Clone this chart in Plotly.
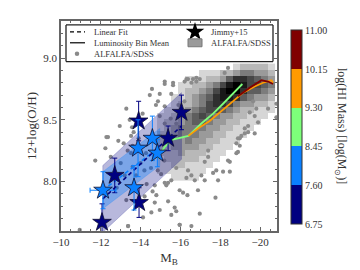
import plotly.graph_objects as go

# ---------------- data ----------------
# ALFALFA/SDSS individual galaxies (sparse regions)
dots_mb = [-14.57, -14.96, -15.21, -13.28, -14.96, -15.51, -15.21, -15.79, -12.36, -14.77,
           -13.57, -13.65, -13.52, -12.88, -13.15, -12.23, -11.72, -13.60, -13.35, -13.52,
           -14.27, -14.19, -14.52, -14.86, -15.03, -13.77, -15.19, -15.21, -15.63, -14.46,
           -14.87, -15.54, -13.28, -13.37, -14.12, -14.71, -14.79, -15.29, -15.38, -15.71,
           -15.54, -10.94, -14.20, -14.54, -14.96, -14.71, -15.21, -15.79, -15.96, -16.13,
           -16.55, -17.39, -17.22, -15.79, -16.30, -15.54, -16.38, -16.55, -16.72, -17.05,
           -17.22, -17.64, -17.80, -17.89, -18.48, -18.14, -15.96, -16.35, -16.88, -17.76,
           -16.97, -15.38, -17.39, -18.98, -18.81, -18.98, -18.39, -18.48, -18.81, -18.89,
           -19.23, -19.40, -19.73, -19.65, -19.81, -19.48, -19.73, -19.90, -19.40, -19.23,
           -19.06, -18.89, -20.82, -20.82, -20.40, -18.39, -18.22, -16.97, -16.80, -16.38,
           -16.21, -16.55, -15.21, -15.63, -16.63, -16.80, -16.30, -12.28, -13.00, -13.20,
           -14.00, -14.30, -12.80, -14.60, -13.60, -12.50, -13.90, -14.10, -13.45, -12.95,
           -16.00, -15.90, -16.20, -13.37, -15.96]
dots_oh = [8.75, 8.71, 8.61, 8.59, 8.53, 8.51, 8.47, 8.47, 8.36, 8.62,
           8.44, 8.40, 8.37, 8.33, 8.31, 8.27, 8.17, 8.29, 8.25, 8.23,
           8.23, 8.09, 8.11, 8.09, 8.06, 8.05, 8.17, 8.79, 8.78, 8.70,
           8.65, 8.71, 7.85, 7.64, 7.71, 7.83, 7.89, 7.97, 7.84, 7.79,
           7.73, 7.61, 7.88, 7.75, 7.77, 7.97, 7.99, 7.76, 7.65, 7.91,
           7.64, 8.20, 8.16, 8.11, 8.03, 8.01, 8.09, 8.05, 8.01, 8.05,
           8.01, 8.07, 8.09, 8.01, 8.08, 8.08, 7.93, 7.89, 7.93, 7.87,
           7.74, 7.99, 8.25, 8.35, 8.31, 8.29, 8.17, 8.16, 8.23, 8.24,
           8.39, 8.40, 8.39, 8.65, 8.59, 8.56, 8.53, 8.48, 8.45, 8.43,
           8.37, 8.35, 8.63, 8.52, 8.59, 8.92, 8.88, 8.83, 8.81, 8.83,
           8.81, 8.80, 8.81, 8.80, 8.83, 8.84, 8.83, 8.36, 8.15, 8.05,
           8.15, 7.98, 7.95, 7.92, 8.12, 8.20, 8.35, 8.55, 8.50, 8.45,
           8.55, 8.62, 8.65, 7.64, 7.65]

# ALFALFA/SDSS 2D density (dense region), columns = M_B bin centres, rows = O/H bin centres
hist_mb = [-15.0, -15.35, -15.7, -16.05, -16.4, -16.75, -17.1, -17.45, -17.8,
           -18.15, -18.5, -18.85, -19.2, -19.55, -19.9, -20.25, -20.6]
hist_oh = [8.03, 8.08, 8.13, 8.18, 8.23, 8.28, 8.33, 8.38, 8.43, 8.48,
           8.53, 8.58, 8.63, 8.68, 8.73, 8.78, 8.83, 8.88, 8.93]
hist_counts = [
    [0, 0, 1, 1, 1, 1, 0, 0, 0, 0, 0, 0, 0, 0, 0, 0, 0],
    [1, 1, 1, 1, 1, 1, 1, 0, 0, 0, 0, 0, 0, 0, 0, 0, 0],
    [1, 1, 2, 2, 1, 1, 1, 1, 0, 0, 0, 0, 0, 0, 0, 0, 0],
    [1, 2, 2, 2, 2, 2, 1, 1, 1, 0, 0, 0, 0, 0, 0, 0, 0],
    [2, 2, 2, 3, 2, 2, 2, 1, 1, 1, 0, 0, 0, 0, 0, 0, 0],
    [2, 2, 3, 3, 3, 3, 2, 2, 1, 1, 1, 0, 0, 0, 0, 0, 0],
    [2, 3, 3, 3, 4, 3, 3, 2, 2, 1, 1, 1, 0, 0, 0, 0, 0],
    [2, 2, 3, 4, 4, 4, 3, 3, 2, 2, 1, 1, 1, 0, 0, 0, 0],
    [1, 2, 3, 4, 4, 4, 4, 3, 3, 2, 2, 1, 1, 1, 0, 0, 0],
    [1, 2, 2, 3, 4, 5, 5, 4, 3, 3, 2, 2, 1, 1, 1, 0, 0],
    [1, 1, 2, 3, 4, 5, 6, 5, 4, 3, 3, 2, 2, 1, 1, 1, 0],
    [0, 1, 1, 2, 3, 4, 5, 6, 6, 5, 4, 3, 2, 2, 1, 1, 1],
    [0, 0, 1, 2, 2, 3, 4, 6, 7, 7, 6, 4, 3, 3, 2, 2, 1],
    [0, 0, 1, 1, 2, 3, 4, 5, 7, 8, 8, 7, 5, 4, 3, 3, 2],
    [0, 0, 0, 1, 2, 2, 3, 4, 6, 8, 9, 9, 7, 5, 5, 4, 3],
    [0, 0, 0, 1, 1, 2, 2, 3, 4, 6, 8, 9, 8, 6, 6, 5, 4],
    [0, 0, 0, 0, 1, 1, 1, 2, 2, 3, 5, 7, 7, 6, 5, 4, 3],
    [0, 0, 0, 0, 0, 0, 1, 1, 1, 2, 2, 3, 4, 4, 3, 3, 2],
    [0, 0, 0, 0, 0, 0, 0, 0, 0, 0, 0, 1, 2, 2, 2, 2, 1],
]

# Jimmy+15 dwarfs
j_mb = [-13.90, -16.05, -15.38, -12.70, -13.92, -12.06,   # low HI mass
        -14.59, -13.87, -14.84, -12.11, -13.67]           # higher HI mass
j_oh = [8.49, 8.56, 8.35, 8.05, 7.83, 7.67,
        8.35, 8.27, 8.23, 7.93, 7.95]
j_oh_err = [0.16, 0.14, 0.10, 0.14, 0.12, 0.15,
            0.18, 0.23, 0.11, 0.15, 0.18]
j_mb_err = [0, 0, 0, 0, 0, 0,
            0, 0, 0, 0.65, 0]
j_himass = [7.3, 7.4, 7.2, 7.1, 7.3, 7.0,
            8.1, 8.0, 8.2, 7.9, 8.0]

# linear fits (M_B endpoints, fitted O/H at endpoints, scatter)
fit_lo_mb = [-12.1, -16.05]
fit_lo_oh = [7.86, 8.45]
fit_lo_sig = 0.27
fit_hi_mb = [-12.1, -14.96]
fit_hi_oh = [7.93, 8.28]
fit_hi_sig = 0.15

# luminosity-bin means of ALFALFA/SDSS per HI-mass bin
mean_green_mb = [-14.87, -15.2, -15.6, -16.4, -17.05, -17.64, -18.14, -18.64, -19.11]
mean_green_oh = [8.19, 8.28, 8.34, 8.37, 8.47, 8.55, 8.63, 8.71, 8.79]
mean_orange_mb = [-16.4, -16.97, -17.47, -17.97, -18.56, -19.15, -19.73, -20.15, -20.57, -20.65]
mean_orange_oh = [8.37, 8.44, 8.49, 8.56, 8.64, 8.72, 8.77, 8.80, 8.82, 8.80]
mean_red_mb = [-18.89, -19.48, -20.07, -20.4, -20.65]
mean_red_oh = [8.69, 8.76, 8.82, 8.81, 8.79]

cbar_ticks = [6.75, 7.60, 8.45, 9.30, 10.15, 11.00]
bin_colors = ['#000080', '#0a80ff', '#7dff7a', '#ff9a00', '#800000']
NAVY, BLUE, GREEN, ORANGE, RED = bin_colors

legend_left = ['Linear Fit', 'Luminosity Bin Mean', 'ALFALFA/SDSS']
legend_right = ['Jimmy+15', 'ALFALFA/SDSS']

FONT = 'Liberation Serif'
TXT = '#333'

# discrete colour scale
cs = []
for i, c in enumerate(bin_colors):
    cs.append([i / 5, c])
    cs.append([(i + 1) / 5, c])

fig = go.Figure()

# scattered galaxies
fig.add_trace(go.Scatter(x=dots_mb, y=dots_oh, mode='markers',
                         marker=dict(color='#8a8a8a', size=4.2), showlegend=False,
                         hoverinfo='skip'))
# density
fig.add_trace(go.Heatmap(x=hist_mb, y=hist_oh,
                         z=[[v if v > 0 else None for v in row] for row in hist_counts],
                         colorscale=[[0, '#d6d6d6'], [0.5, '#5e5e5e'], [1, '#000000']],
                         zmin=1, zmax=9, showscale=False, hoverinfo='skip'))


def band(mb, oh, sig, color, fill):
    xs = [mb[0], mb[1], mb[1], mb[0], mb[0]]
    ys = [oh[0] + sig, oh[1] + sig, oh[1] - sig, oh[0] - sig, oh[0] + sig]
    fig.add_trace(go.Scatter(x=xs, y=ys, mode='lines', fill='toself', fillcolor=fill,
                             line=dict(color=color, width=0.6), showlegend=False,
                             hoverinfo='skip'))


band(fit_lo_mb, fit_lo_oh, fit_lo_sig, 'rgba(0,0,128,0.35)', 'rgba(0,0,128,0.28)')
band(fit_hi_mb, fit_hi_oh, fit_hi_sig, 'rgba(10,128,255,0.4)', 'rgba(10,128,255,0.35)')

# bin means
for mx, my, c in [(mean_green_mb, mean_green_oh, GREEN),
                  (mean_orange_mb, mean_orange_oh, ORANGE),
                  (mean_red_mb, mean_red_oh, RED)]:
    fig.add_trace(go.Scatter(x=mx, y=my, mode='lines', line=dict(color=c, width=1.8),
                             showlegend=False, hoverinfo='skip'))

# linear fits
fig.add_trace(go.Scatter(x=fit_hi_mb, y=fit_hi_oh, mode='lines',
                         line=dict(color=BLUE, width=1.6, dash='4px,3px'),
                         showlegend=False, hoverinfo='skip'))
fig.add_trace(go.Scatter(x=fit_lo_mb, y=fit_lo_oh, mode='lines',
                         line=dict(color=NAVY, width=1.6, dash='4px,3px'),
                         showlegend=False, hoverinfo='skip'))

# Jimmy+15 stars
lo = range(0, 6)
hi = range(6, 11)
for idx, col, show in [(lo, NAVY, True), (hi, BLUE, False)]:
    fig.add_trace(go.Scatter(
        x=[j_mb[i] for i in idx], y=[j_oh[i] for i in idx], mode='markers',
        error_y=dict(type='data', array=[j_oh_err[i] for i in idx], color=col,
                     thickness=1.0, width=2.5),
        error_x=dict(type='data', array=[j_mb_err[i] for i in idx], color=col,
                     thickness=1.0, width=2.5),
        marker=dict(symbol='star', size=14, color=[j_himass[i] for i in idx],
                    colorscale=cs, cmin=6.75, cmax=11.0,
                    line=dict(color='#101030', width=0.8),
                    showscale=show,
                    colorbar=dict(x=1.065, xanchor='left', xpad=0, thickness=11,
                                  lenmode='pixels', len=214, y=0.494, yanchor='middle',
                                  outlinewidth=1, outlinecolor='#333',
                                  tickvals=cbar_ticks,
                                  ticktext=['%.2f' % t for t in cbar_ticks],
                                  ticks='', ticklen=0,
                                  tickfont=dict(family=FONT, size=10, color=TXT))),
        showlegend=False, hoverinfo='skip'))

# ---------------- legend: drawn on an overlay axis measured in pixels ----------------
LX0, LX1, LY0, LY1 = 58, 265, 15, 52
rows = [22, 33, 44]
lg = dict(xaxis='x2', yaxis='y2', showlegend=False, hoverinfo='skip')
fig.add_trace(go.Scatter(x=[LX0, LX1, LX1, LX0, LX0], y=[LY0, LY0, LY1, LY1, LY0],
                         mode='lines', fill='toself', fillcolor='white',
                         line=dict(width=0), **lg))
for bx, by in [([LX0, LX1], [LY0, LY0]), ([LX0, LX1], [LY1, LY1]),
               ([LX0, LX0], [LY0, LY1]), ([LX1, LX1], [LY0, LY1])]:
    fig.add_trace(go.Scatter(x=bx, y=by, mode='lines',
                             line=dict(color='#222222', width=1.3), **lg))
fig.add_trace(go.Scatter(x=[62, 77], y=[rows[0], rows[0]], mode='lines',
                         line=dict(color='black', width=1.2, dash='4px,3px'), **lg))
fig.add_trace(go.Scatter(x=[62, 77], y=[rows[1], rows[1]], mode='lines',
                         line=dict(color='black', width=1.2), **lg))
fig.add_trace(go.Scatter(x=[69], y=[rows[2]], mode='markers',
                         marker=dict(color='#8a8a8a', size=4.5), **lg))
fig.add_trace(go.Scatter(x=[187], y=[rows[0]], mode='markers',
                         marker=dict(symbol='star', size=14, color='black'), **lg))
fig.add_trace(go.Scatter(x=[180, 194, 194, 180, 180], y=[29, 29, 37, 37, 29],
                         mode='lines', fill='toself', fillcolor='#9a9a9a',
                         line=dict(color='#777', width=1), **lg))

for r, t in zip(rows, legend_left):
    fig.add_annotation(text=t, xref='x2', yref='y2', x=84, y=r, xanchor='left',
                       yanchor='middle', showarrow=False,
                       font=dict(family=FONT, size=8.5, color=TXT))
for r, t in zip(rows[:2], legend_right):
    fig.add_annotation(text=t, xref='x2', yref='y2', x=201, y=r, xanchor='left',
                       yanchor='middle', showarrow=False,
                       font=dict(family=FONT, size=8.5, color=TXT))

axis_common = dict(showgrid=False, zeroline=False, showline=True, linecolor='#666',
                   linewidth=1.5, mirror='ticks', ticks='inside', ticklen=4,
                   tickcolor='#666', tickfont=dict(family=FONT, size=11, color=TXT))

fig.update_layout(
    xaxis=dict(range=[-10, -20.85], tickvals=[-10, -12, -14, -16, -18, -20],
               minor=dict(dtick=0.5, ticks='inside', ticklen=2, tickcolor='#666'),
               title=dict(text='M<sub>B</sub>', font=dict(family=FONT, size=13, color=TXT),
                          standoff=6),
               **axis_common),
    yaxis=dict(range=[7.6, 9.3], tickvals=[8.0, 8.5, 9.0], ticktext=['8.0', '8.5', '9.0'],
               minor=dict(dtick=0.1, ticks='inside', ticklen=2, tickcolor='#666'),
               title=dict(text='12+log(O/H)', font=dict(family=FONT, size=13, color=TXT),
                          standoff=4),
               **axis_common),
    xaxis2=dict(overlaying='x', range=[53, 269], visible=False, fixedrange=True),
    yaxis2=dict(overlaying='y', range=[223, 11], visible=False, fixedrange=True),
)

fig.add_annotation(text='log(HI Mass) [log(M<sub>⊙</sub>)]', textangle=90,
                   xref='paper', yref='paper', x=(333 - 53) / 216.0, y=1 - (117 - 11) / 212.0,
                   xanchor='center', yanchor='middle', showarrow=False,
                   font=dict(family=FONT, size=12, color=TXT))

fig.update_layout(
    width=360, height=270,
    margin=dict(l=53, r=91, t=11, b=47),
    paper_bgcolor='white', plot_bgcolor='white',
    showlegend=False,
    font=dict(family=FONT),
)

fig.write_html('out.html')
